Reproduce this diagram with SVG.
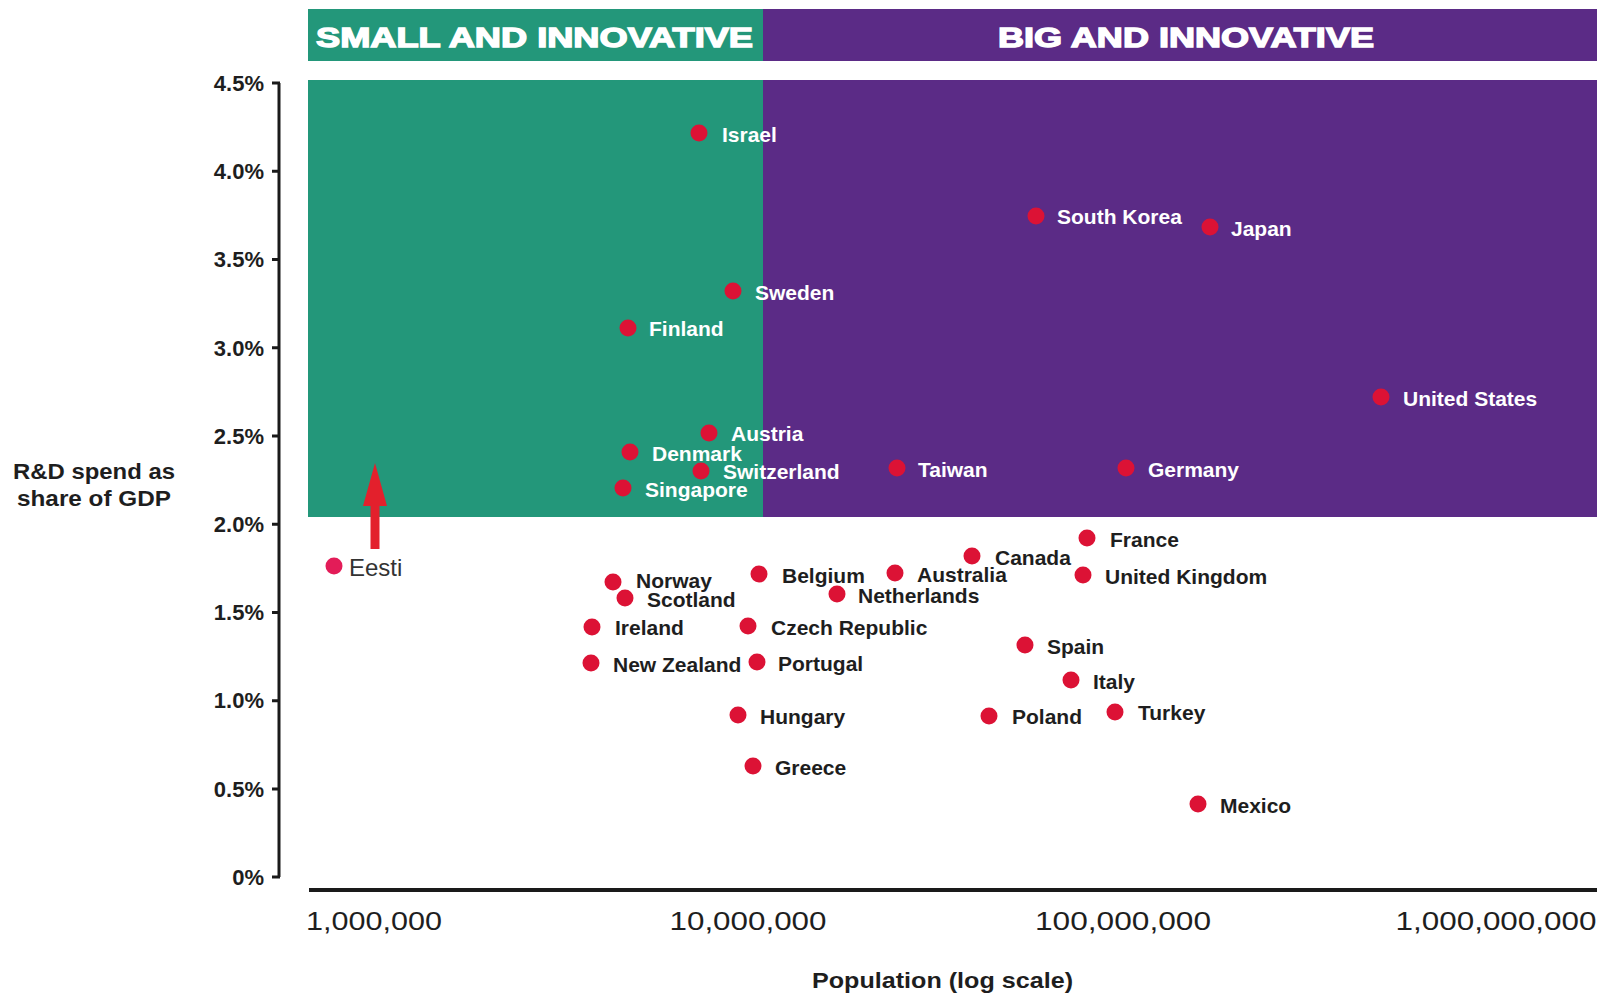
<svg xmlns="http://www.w3.org/2000/svg" width="1605" height="994" viewBox="0 0 1605 994">
<style>
.dot{fill:#dc1235}
.lw{font-family:"Liberation Sans",Arial,sans-serif;font-weight:bold;font-size:21px;fill:#ffffff}
.ld{font-family:"Liberation Sans",Arial,sans-serif;font-weight:bold;font-size:21px;fill:#1e1e1e}
.yl{font-family:"Liberation Sans",Arial,sans-serif;font-weight:bold;font-size:22px;fill:#1e1e1e;text-anchor:end}
.xl{font-family:"Liberation Sans",Arial,sans-serif;font-weight:normal;font-size:25px;fill:#1e1e1e;text-anchor:middle}
.hd{font-family:"Liberation Sans",Arial,sans-serif;font-weight:bold;font-size:28px;fill:#ffffff;stroke:#ffffff;stroke-width:1.4;text-anchor:middle}
.tt{font-family:"Liberation Sans",Arial,sans-serif;font-weight:bold;font-size:22px;fill:#1e1e1e;text-anchor:middle}
.ax{stroke:#1a1a1a;stroke-width:3;fill:none}
</style>
<rect width="1605" height="994" fill="#ffffff"/>
<g id="quadrants">
<rect x="308" y="9" width="455" height="52" fill="#23977a"/>
<rect x="763" y="9" width="834" height="52" fill="#5b2b86"/>
<rect x="308" y="80" width="455" height="437" fill="#23977a"/>
<rect x="763" y="80" width="834" height="437" fill="#5b2b86"/>
<text class="hd" x="534.5" y="47" textLength="437" lengthAdjust="spacingAndGlyphs">SMALL AND INNOVATIVE</text>
<text class="hd" x="1186" y="47" textLength="376" lengthAdjust="spacingAndGlyphs">BIG AND INNOVATIVE</text>
</g>
<g id="y-axis">
<path class="ax" d="M279 83 V877 M272 83 H280 M272 171.3 H279 M272 259.5 H279 M272 347.8 H279 M272 436 H279 M272 524.3 H279 M272 612.5 H279 M272 700.8 H279 M272 789 H279 M272 877 H280"/>
<text class="yl" x="264" y="91">4.5%</text>
<text class="yl" x="264" y="179">4.0%</text>
<text class="yl" x="264" y="267">3.5%</text>
<text class="yl" x="264" y="356">3.0%</text>
<text class="yl" x="264" y="444">2.5%</text>
<text class="yl" x="264" y="532">2.0%</text>
<text class="yl" x="264" y="620">1.5%</text>
<text class="yl" x="264" y="708">1.0%</text>
<text class="yl" x="264" y="797">0.5%</text>
<text class="yl" x="264" y="885">0%</text>
<text class="tt" x="94" y="479" textLength="162" lengthAdjust="spacingAndGlyphs">R&amp;D spend as</text>
<text class="tt" x="94" y="506" textLength="154" lengthAdjust="spacingAndGlyphs">share of GDP</text>
</g>
<g id="x-axis">
<line x1="309" y1="890" x2="1597" y2="890" stroke="#1a1a1a" stroke-width="4"/>
<text class="xl" x="374" y="930" textLength="136" lengthAdjust="spacingAndGlyphs">1,000,000</text>
<text class="xl" x="748" y="930" textLength="157" lengthAdjust="spacingAndGlyphs">10,000,000</text>
<text class="xl" x="1123" y="930" textLength="176" lengthAdjust="spacingAndGlyphs">100,000,000</text>
<text class="xl" x="1496" y="930" textLength="201" lengthAdjust="spacingAndGlyphs">1,000,000,000</text>
<text class="tt" x="942.5" y="988" textLength="261" lengthAdjust="spacingAndGlyphs">Population (log scale)</text>
</g>
<g id="connectors">
<polygon points="375,463 387,506 379.5,506 379.5,549 370.5,549 370.5,506 363,506" fill="#e3202c"/>
</g>
<g id="israel"><circle class="dot" cx="699" cy="133" r="8.5"/><text class="lw" x="722" y="142">Israel</text></g>
<g id="south-korea"><circle class="dot" cx="1036" cy="216" r="8.5"/><text class="lw" x="1057" y="224">South Korea</text></g>
<g id="japan"><circle class="dot" cx="1210" cy="227" r="8.5"/><text class="lw" x="1231" y="236">Japan</text></g>
<g id="sweden"><circle class="dot" cx="733" cy="291" r="8.5"/><text class="lw" x="755" y="300">Sweden</text></g>
<g id="finland"><circle class="dot" cx="628" cy="328" r="8.5"/><text class="lw" x="649" y="336">Finland</text></g>
<g id="united-states"><circle class="dot" cx="1381" cy="397" r="8.5"/><text class="lw" x="1403" y="406">United States</text></g>
<g id="austria"><circle class="dot" cx="709" cy="433" r="8.5"/><text class="lw" x="731" y="441">Austria</text></g>
<g id="denmark"><circle class="dot" cx="630" cy="452" r="8.5"/><text class="lw" x="652" y="461">Denmark</text></g>
<g id="switzerland"><circle class="dot" cx="701" cy="471" r="8.5"/><text class="lw" x="723" y="479">Switzerland</text></g>
<g id="taiwan"><circle class="dot" cx="897" cy="468" r="8.5"/><text class="lw" x="918" y="477">Taiwan</text></g>
<g id="germany"><circle class="dot" cx="1126" cy="468" r="8.5"/><text class="lw" x="1148" y="477">Germany</text></g>
<g id="singapore"><circle class="dot" cx="623" cy="488" r="8.5"/><text class="lw" x="645" y="497">Singapore</text></g>
<g id="norway"><circle class="dot" cx="613" cy="582" r="8.5"/><text class="ld" x="636" y="588">Norway</text></g>
<g id="scotland"><circle class="dot" cx="625" cy="598" r="8.5"/><text class="ld" x="647" y="607">Scotland</text></g>
<g id="belgium"><circle class="dot" cx="759" cy="574" r="8.5"/><text class="ld" x="782" y="583">Belgium</text></g>
<g id="australia"><circle class="dot" cx="895" cy="573" r="8.5"/><text class="ld" x="917" y="582">Australia</text></g>
<g id="netherlands"><circle class="dot" cx="837" cy="594" r="8.5"/><text class="ld" x="858" y="603">Netherlands</text></g>
<g id="canada"><circle class="dot" cx="972" cy="556" r="8.5"/><text class="ld" x="995" y="565">Canada</text></g>
<g id="france"><circle class="dot" cx="1087" cy="538" r="8.5"/><text class="ld" x="1110" y="547">France</text></g>
<g id="united-kingdom"><circle class="dot" cx="1083" cy="575" r="8.5"/><text class="ld" x="1105" y="584">United Kingdom</text></g>
<g id="ireland"><circle class="dot" cx="592" cy="627" r="8.5"/><text class="ld" x="615" y="635">Ireland</text></g>
<g id="czech-republic"><circle class="dot" cx="748" cy="626" r="8.5"/><text class="ld" x="771" y="635">Czech Republic</text></g>
<g id="new-zealand"><circle class="dot" cx="591" cy="663" r="8.5"/><text class="ld" x="613" y="672">New Zealand</text></g>
<g id="portugal"><circle class="dot" cx="757" cy="662" r="8.5"/><text class="ld" x="778" y="671">Portugal</text></g>
<g id="spain"><circle class="dot" cx="1025" cy="645" r="8.5"/><text class="ld" x="1047" y="654">Spain</text></g>
<g id="italy"><circle class="dot" cx="1071" cy="680" r="8.5"/><text class="ld" x="1093" y="689">Italy</text></g>
<g id="hungary"><circle class="dot" cx="738" cy="715" r="8.5"/><text class="ld" x="760" y="724">Hungary</text></g>
<g id="poland"><circle class="dot" cx="989" cy="716" r="8.5"/><text class="ld" x="1012" y="724">Poland</text></g>
<g id="turkey"><circle class="dot" cx="1115" cy="712" r="8.5"/><text class="ld" x="1138" y="720">Turkey</text></g>
<g id="greece"><circle class="dot" cx="753" cy="766" r="8.5"/><text class="ld" x="775" y="775">Greece</text></g>
<g id="mexico"><circle class="dot" cx="1198" cy="804" r="8.5"/><text class="ld" x="1220" y="813">Mexico</text></g>
<g id="eesti"><circle cx="334" cy="566" r="8.5" fill="#e31c58"/><text x="349" y="576" font-family="'Liberation Sans',Arial,sans-serif" font-size="24" fill="#333333">Eesti</text></g>
</svg>
